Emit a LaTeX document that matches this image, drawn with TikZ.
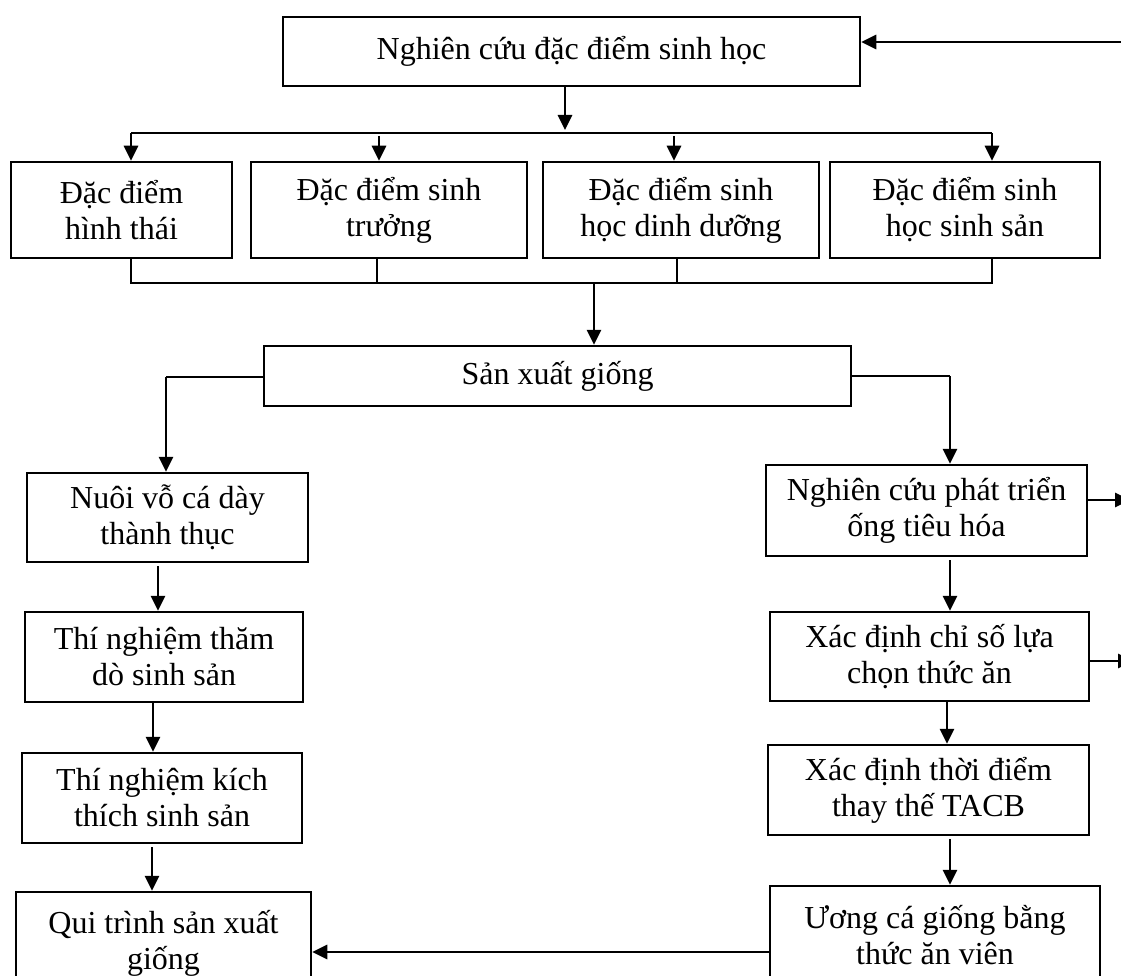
\documentclass[tikz,border=0pt]{standalone}
\usepackage{fontspec}
\setmainfont{Liberation Serif}
\usetikzlibrary{arrows.meta}
\begin{document}
\begin{tikzpicture}[x=1pt,y=-1pt,
  boxnode/.style={draw, line width=2.5pt, align=center, inner sep=0pt,
    font=\fontsize{32}{36}\selectfont},
  arr/.style={line width=2.8pt, -{Triangle[length=15pt,width=14pt]}},
  thinline/.style={line width=1.7pt},
  thickline/.style={line width=2.8pt}]
\fill[white] (0,0) rectangle (1121,976);
\useasboundingbox (0,0) rectangle (1121,976);
\clip (0,0) rectangle (1121,976);

% boxes
\node[boxnode, minimum width=577pt, minimum height=69pt] (top) at (571.5,51.5) {Nghiên cứu đặc điểm sinh học};
\node[boxnode, minimum width=221pt, minimum height=96pt] (b1) at (121.5,210) {Đặc điểm\\hình thái};
\node[boxnode, minimum width=276pt, minimum height=96pt] (b2) at (389,210) {Đặc điểm sinh\\trưởng};
\node[boxnode, minimum width=276pt, minimum height=96pt] (b3) at (681,210) {Đặc điểm sinh\\học dinh dưỡng};
\node[boxnode, minimum width=270pt, minimum height=96pt] (b4) at (965,210) {Đặc điểm sinh\\học sinh sản};
\node[boxnode, minimum width=587pt, minimum height=60pt] (sx) at (557.5,376) {Sản xuất giống};
\node[boxnode, minimum width=281pt, minimum height=89pt] (L1) at (167.5,517.5) {Nuôi vỗ cá dày\\thành thục};
\node[boxnode, minimum width=278pt, minimum height=90pt] (L2) at (164,657) {Thí nghiệm thăm\\dò sinh sản};
\node[boxnode, minimum width=280pt, minimum height=90pt] (L3) at (162,798) {Thí nghiệm kích\\thích sinh sản};
\node[boxnode, minimum width=295pt, minimum height=102pt] (L4) at (163.5,943) {Qui trình sản xuất\\giống};
\node[boxnode, minimum width=321pt, minimum height=91pt] (R1) at (926.5,510.5) {Nghiên cứu phát triển\\ống tiêu hóa};
\node[boxnode, minimum width=319pt, minimum height=89pt] (R2) at (929.5,656.5) {Xác định chỉ số lựa\\chọn thức ăn};
\node[boxnode, minimum width=321pt, minimum height=90pt] (R3) at (928.5,790) {Xác định thời điểm\\thay thế TACB};
\node[boxnode, minimum width=330pt, minimum height=98pt] (R4) at (935,935) {Ương cá giống bằng\\thức ăn viên};

% coordinates
\coordinate (inR) at (1140,42);
\coordinate (busTip) at (565,130);
\coordinate (busL) at (131,133);
\coordinate (busR) at (992,133);
\coordinate (bus2) at (379,136);
\coordinate (bus3) at (674,136);
\coordinate (bb1) at (131,283);
\coordinate (bb2) at (377,283);
\coordinate (bb3) at (677,283);
\coordinate (bb4) at (992,283);
\coordinate (bbm) at (594,283);
\coordinate (lc) at (166,377);
\coordinate (rc) at (950,376);
\coordinate (a1) at (158,0);
\coordinate (a2) at (153,0);
\coordinate (a3) at (152,0);
\coordinate (r1) at (950,0);
\coordinate (r2) at (947,0);
\coordinate (r3) at (950,0);
\coordinate (o1) at (1130,500);
\coordinate (o2) at (1133,661);
\coordinate (bl) at (0,952);

% top feedback arrow
\draw[arr] (inR) -- (inR -| top.east);
% top to bus
\draw[arr] (top.south -| busTip) -- (busTip);
\draw[thickline] (busL) -- (busR);
\draw[arr] (busL) -- (busL |- b1.north);
\draw[arr] (bus2) -- (bus2 |- b2.north);
\draw[arr] (bus3) -- (bus3 |- b3.north);
\draw[arr] (busR) -- (busR |- b4.north);
% bottom bus
\draw[thinline] (bb1 |- b1.south) -- (bb1) -- (bb4) -- (bb4 |- b4.south);
\draw[thinline] (bb2 |- b2.south) -- (bb2);
\draw[thinline] (bb3 |- b3.south) -- (bb3);
\draw[arr] (bbm) -- (bbm |- sx.north);
% branches
\draw[thinline] (sx.west |- lc) -- (lc);
\draw[arr] (lc) -- (lc |- L1.north);
\draw[thinline] (sx.east) -- (rc);
\draw[arr] (rc) -- (rc |- R1.north);
% left column
\draw[arr] ([yshift=-3pt]L1.south -| a1) -- (L2.north -| a1);
\draw[arr] (L2.south -| a2) -- (L3.north -| a2);
\draw[arr] ([yshift=-3pt]L3.south -| a3) -- (L4.north -| a3);
% right column
\draw[arr] ([yshift=-3pt]R1.south -| r1) -- (R2.north -| r1);
\draw[arr] (R2.south -| r2) -- (R3.north -| r2);
\draw[arr] ([yshift=-3pt]R3.south -| r3) -- (R4.north -| r3);
% outgoing right arrows
\draw[arr] (R1.east |- o1) -- (o1);
\draw[arr] (R2.east |- o2) -- (o2);
% bottom arrow
\draw[arr] (R4.west |- bl) -- (L4.east |- bl);
\end{tikzpicture}
\end{document}
